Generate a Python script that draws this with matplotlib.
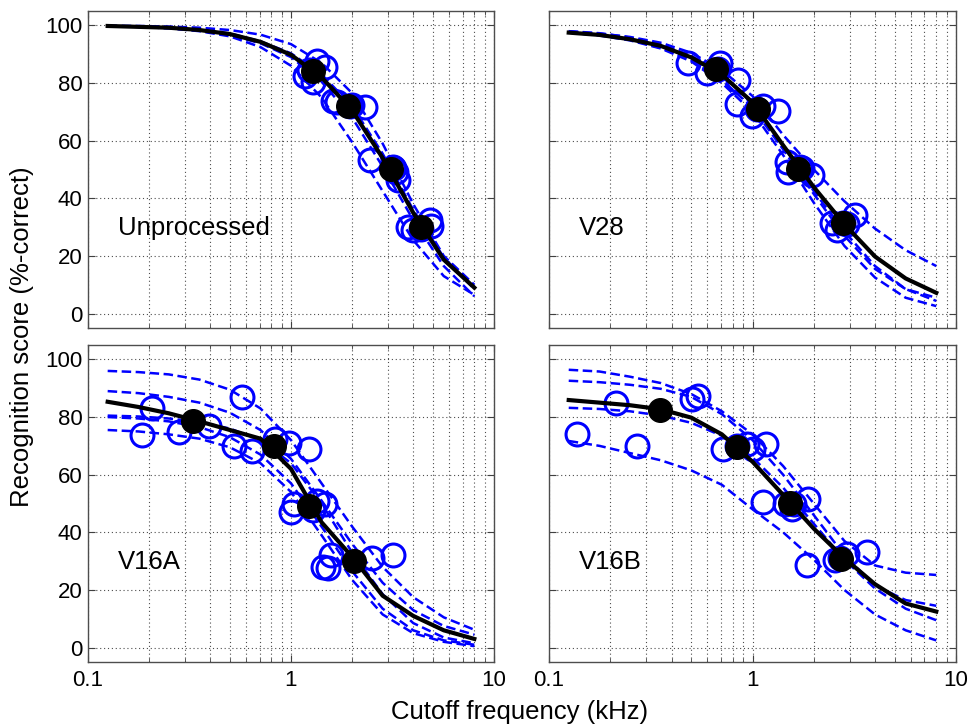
import matplotlib
matplotlib.use("Agg")
import matplotlib.pyplot as plt
from matplotlib.ticker import LogLocator, FixedLocator, FixedFormatter, NullFormatter

plt.rcParams['font.family'] = ['Liberation Sans', 'DejaVu Sans']

FREQ = [0.125, 0.177, 0.25, 0.354, 0.5, 0.707, 1.0, 1.414, 2.0, 2.828, 4.0, 5.657, 8.0]

# ---------------- Unprocessed ----------------
unp_mean_f = [1.28, 1.91, 3.11, 4.36]
unp_mean_v = [84.2, 72.2, 50.1, 30.1]
unp_subj_f = [1.17, 1.34, 1.47, 1.28, 1.22, 1.61, 1.68, 2.31, 1.95, 2.0,
              2.46, 3.28, 3.38, 3.18, 3.2, 3.78, 4.84, 3.99, 4.35, 4.9]
unp_subj_v = [82.5, 87.7, 85.4, 80.2, 84.5, 73.9, 73.3, 71.6, 72, 72.5,
              53.2, 49.2, 46.3, 51, 50.5, 30.2, 32.5, 29, 29.5, 30.5]
unp_fit_mean = [99.8, 99.5, 99.2, 98.4, 97.0, 94.3, 89.8, 82, 70.5, 54, 35, 18.7, 9]
unp_fit_s1 = [99.9, 99.8, 99.6, 99.2, 98.4, 96.8, 93.5, 87, 76.5, 59, 38, 20, 10]
unp_fit_s2 = [99.8, 99.5, 99.0, 98.0, 96.2, 92.5, 86, 75, 59.5, 42.5, 25.5, 13, 6.5]
unp_fit_s3 = [99.8, 99.6, 99.2, 98.5, 97.2, 94.5, 90.3, 83, 72, 55.5, 36, 19.5, 8.5]
unp_fit_s4 = [99.8, 99.5, 99.0, 98.2, 96.7, 93.8, 89, 80.5, 68, 51, 32.5, 16.5, 6]

# ---------------- V28 ----------------
v28_mean_f = [0.659, 1.068, 1.68, 2.79]
v28_mean_v = [84.8, 71.0, 50.3, 31.4]
v28_subj_f = [0.48, 0.6, 0.69, 0.85, 0.68, 0.84, 0.99, 1.34, 1.05, 1.12,
              1.47, 1.5, 1.95, 1.72, 1.76, 2.45, 3.19, 2.6, 2.9, 2.8]
v28_subj_v = [87, 83.5, 87, 81, 85, 72.8, 68.7, 70.4, 71, 72,
              52.6, 49.2, 48, 51, 50.5, 31.4, 34.2, 29, 31, 31.5]
v28_fit_mean = [97.5, 96.7, 95.2, 92.9, 88.9, 82.9, 73.3, 58.4, 43.9, 31, 19.8, 12.2, 7.2]
v28_fit_s1 = [97.8, 97.2, 96, 94, 90.5, 84.5, 75.5, 62, 50, 39, 29.5, 22, 16.5]
v28_fit_s2 = [98, 97, 95, 92.2, 88, 81, 71.5, 57, 41.5, 27, 15.5, 8.5, 5.5]
v28_fit_s3 = [98, 97.3, 95.8, 93.5, 89.5, 83, 73.5, 58.5, 42.5, 28.5, 16.5, 8.5, 4.4]
v28_fit_s4 = [97.5, 96.5, 94.8, 92, 87.5, 80, 70, 55, 38.5, 23.5, 12.5, 5.5, 2.6]

# ---------------- V16A ----------------
v16a_mean_f = [0.328, 0.824, 1.22, 2.05]
v16a_mean_v = [78.6, 70.0, 49.3, 30.1]
v16a_subj_f = [0.206, 0.184, 0.281, 0.396, 0.571, 0.526, 0.64, 0.834, 0.98, 1.23,
               1.03, 1.0, 1.34, 1.47, 1.29, 1.44, 1.52, 1.58, 2.5, 3.17]
v16a_subj_v = [83, 73.8, 74.9, 76.9, 87, 70, 68.3, 72.3, 71.1, 68.9,
               49.9, 47, 51, 49.9, 47.6, 28, 27.5, 32, 31, 32]
v16a_fit_mean = [85.3, 83.5, 81.3, 78.5, 75.5, 72.5, 62, 43.5, 31.5, 18, 11, 6, 3]
v16a_fit_s1 = [96, 95.6, 94.8, 93, 89.5, 83, 72, 57, 42, 28, 17.5, 10.5, 6.2]
v16a_fit_s2 = [89, 88.3, 87, 85, 81.5, 75.5, 65.5, 51, 36, 22.5, 13, 7.5, 4.5]
v16a_fit_s3 = [80.5, 80.2, 79.5, 78.3, 76, 72, 64, 50, 33, 18.5, 8.5, 3.5, 1.5]
v16a_fit_s4 = [80, 79.5, 78.5, 76.5, 73, 67, 57, 42, 26.5, 13.5, 6, 2.5, 1]
v16a_fit_s5 = [75.5, 75, 74, 72.5, 69.5, 64, 54, 39, 23.5, 11.5, 5, 2, 0.5]

# ---------------- V16B ----------------
v16b_mean_f = [0.351, 0.841, 1.53, 2.72]
v16b_mean_v = [82.6, 69.7, 50.1, 30.9]
v16b_subj_f = [0.138, 0.213, 0.27, 0.502, 0.54, 0.72, 0.84, 0.936, 1.01, 1.17,
               1.13, 1.45, 1.56, 1.88, 1.6, 1.85, 2.54, 2.9, 3.64, 2.7]
v16b_subj_v = [74.2, 84.9, 70, 86.1, 87.2, 69, 70, 70.6, 68.9, 70.6,
               50.5, 50, 48.2, 51.6, 50, 28.6, 30.3, 32.5, 33.2, 31]
v16b_fit_mean = [85.9, 85, 84.1, 82.7, 79.8, 74, 64.5, 53, 41.3, 31, 22, 15.3, 12.5]
v16b_fit_s1 = [96.4, 95.8, 94, 91.8, 88, 82, 74, 63, 50, 37, 28.5, 26, 25.2]
v16b_fit_s2 = [92.6, 92.1, 91.2, 89.8, 87, 81, 72, 60, 46, 32, 21.5, 16.5, 14.5]
v16b_fit_s3 = [83.2, 82.8, 82, 80.5, 78, 73.5, 66, 55.5, 43, 30.5, 20.5, 13.5, 9.5]
v16b_fit_s4 = [71.7, 70, 67.5, 65, 61.5, 56.5, 48, 40, 30.5, 20, 11.5, 6, 2.5]

PANELS = [
    ("Unprocessed", unp_mean_f, unp_mean_v, unp_subj_f, unp_subj_v, unp_fit_mean,
     [unp_fit_s1, unp_fit_s2, unp_fit_s3, unp_fit_s4]),
    ("V28", v28_mean_f, v28_mean_v, v28_subj_f, v28_subj_v, v28_fit_mean,
     [v28_fit_s1, v28_fit_s2, v28_fit_s3, v28_fit_s4]),
    ("V16A", v16a_mean_f, v16a_mean_v, v16a_subj_f, v16a_subj_v, v16a_fit_mean,
     [v16a_fit_s1, v16a_fit_s2, v16a_fit_s3, v16a_fit_s4, v16a_fit_s5]),
    ("V16B", v16b_mean_f, v16b_mean_v, v16b_subj_f, v16b_subj_v, v16b_fit_mean,
     [v16b_fit_s1, v16b_fit_s2, v16b_fit_s3, v16b_fit_s4]),
]

XTICKS = [0.1, 1, 10]
XTICKLABELS = ["0.1", "1", "10"]
YTICKS = [0, 20, 40, 60, 80, 100]
YTICKLABELS = ["0", "20", "40", "60", "80", "100"]

W, H = 971, 724
fig = plt.figure(figsize=(W / 100, H / 100), dpi=100)

lefts = [88 / W, 549 / W]
widths = [406 / W, 407 / W]
bottoms = [1 - 328 / H, 1 - 662 / H]
height = 317 / H

BLUE = (0, 0, 1)
for i, (name, mf, mv, sf, sv, fmean, fsubj) in enumerate(PANELS):
    r, c = divmod(i, 2)
    ax = fig.add_axes([lefts[c], bottoms[r], widths[c], height])
    ax.set_xscale('log')
    ax.set_xlim(0.1, 10)
    ax.set_ylim(-5, 105)

    for s in fsubj:
        ax.plot(FREQ, s, ls='--', color=BLUE, lw=1.8, dashes=(3.8, 1.8), zorder=2)
    ax.plot(sf, sv, ls='none', marker='o', ms=16.5, mfc='none', mec=BLUE, mew=2.2,
            zorder=3, clip_on=False)
    ax.plot(FREQ, fmean, ls='-', color='k', lw=3.0, zorder=4)
    ax.plot(mf, mv, ls='none', marker='o', ms=17, mfc='k', mec='k', zorder=5)

    ax.text(0.14, 27.2, name, fontsize=18.5, ha='left', va='baseline', zorder=6)

    ax.xaxis.set_major_locator(FixedLocator(XTICKS))
    ax.xaxis.set_minor_locator(LogLocator(base=10, subs=range(2, 10)))
    ax.xaxis.set_minor_formatter(NullFormatter())
    ax.yaxis.set_major_locator(FixedLocator(YTICKS))
    if r == 1:
        ax.xaxis.set_major_formatter(FixedFormatter(XTICKLABELS))
    else:
        ax.xaxis.set_major_formatter(NullFormatter())
    if c == 0:
        ax.yaxis.set_major_formatter(FixedFormatter(YTICKLABELS))
    else:
        ax.yaxis.set_major_formatter(NullFormatter())

    ax.tick_params(which='both', direction='in', top=True, right=True,
                   colors='0.25', labelcolor='k')
    ax.tick_params(axis='x', which='major', length=5, width=0.8, labelsize=16, pad=6)
    ax.tick_params(axis='x', which='minor', length=3, width=0.6)
    ax.tick_params(axis='y', which='major', length=5, width=0.8, labelsize=16, pad=4)

    ax.grid(True, which='major', axis='both', ls=(0, (1, 2.5)), color='0.3', lw=0.8)
    ax.grid(True, which='minor', axis='x', ls=(0, (1, 2.5)), color='0.3', lw=0.8)
    ax.set_axisbelow(True)
    for sp in ax.spines.values():
        sp.set_color('0.3')
        sp.set_linewidth(1.0)

fig.text(520 / W, 1 - 712 / H, "Cutoff frequency (kHz)", fontsize=18.5,
         ha='center', va='center')
fig.text(22 / W, 1 - 336.5 / H, "Recognition score (%-correct)", fontsize=18.5,
         ha='center', va='center', rotation=90)

fig.savefig("out.png", dpi=100)
